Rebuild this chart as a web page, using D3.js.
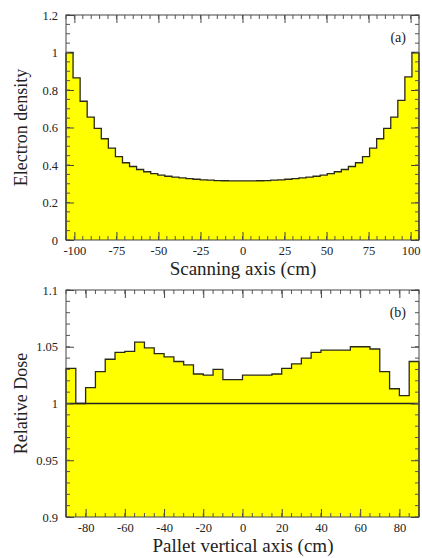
<!DOCTYPE html>
<html><head><meta charset="utf-8">
<script src="https://cdn.jsdelivr.net/npm/d3@7"></script>
<style>
html,body{margin:0;padding:0;background:#fff;}
svg{display:block;}
text{font-family:"Liberation Serif","Times New Roman",serif;fill:#222;}
</style></head>
<body>
<script>
// ---- Data ----
// Panel (a): electron density per bin along scanning axis
const topRange = [-105, 105];
const topValues = [
  1.00, 0.865, 0.74, 0.655, 0.595, 0.54, 0.49, 0.445, 0.412, 0.392,
  0.376, 0.364, 0.354, 0.346, 0.340, 0.335, 0.331, 0.327, 0.324, 0.321,
  0.319, 0.317, 0.316, 0.315, 0.315,
  0.315, 0.315, 0.316, 0.317, 0.319, 0.321, 0.324, 0.327, 0.331, 0.335,
  0.340, 0.346, 0.354, 0.364, 0.376, 0.392, 0.412, 0.445, 0.49, 0.54,
  0.595, 0.655, 0.745, 0.87, 1.00
];
const topXTicks = [-100, -75, -50, -25, 0, 25, 50, 75, 100];
const topYTicks = [0, 0.2, 0.4, 0.6, 0.8, 1, 1.2];

// Panel (b): relative dose per bin along pallet vertical axis
const botRange = [-90, 90];
const botValues = [
  1.031, 1.000, 1.014, 1.028, 1.039, 1.045, 1.046, 1.054, 1.049, 1.044,
  1.041, 1.037, 1.034, 1.026, 1.025, 1.030, 1.021, 1.021, 1.025, 1.025,
  1.025, 1.026, 1.031, 1.035, 1.040, 1.045, 1.047, 1.047, 1.047, 1.050,
  1.050, 1.048, 1.028, 1.013, 1.007, 1.037
];
const botXTicks = [-80, -60, -40, -20, 0, 20, 40, 60, 80];
const botYTicks = [0.9, 0.95, 1, 1.05, 1.1];

const W = 422, H = 558;
const svg = d3.select("body").append("svg").attr("width", W).attr("height", H);

function panel(opt) {
  const x = d3.scaleLinear().domain(opt.xDomain).range([66, 419]);
  const y = d3.scaleLinear().domain(opt.yDomain).range([opt.bottom, opt.top]);
  const g = svg.append("g");
  const n = opt.values.length;
  const bw = (opt.xDomain[1] - opt.xDomain[0]) / n;
  const pts = opt.values.map((v, i) => [opt.xDomain[0] + i * bw, v]);
  pts.push([opt.xDomain[1], opt.values[n - 1]]);

  const area = d3.area().x(d => x(d[0])).y0(y(opt.yDomain[0])).y1(d => y(d[1])).curve(d3.curveStepAfter);
  g.append("path").attr("d", area(pts)).attr("fill", "#ffff00");
  const line = d3.line().x(d => x(d[0])).y(d => y(d[1])).curve(d3.curveStepAfter);
  g.append("path").attr("d", line(pts)).attr("fill", "none").attr("stroke", "#2a2a1a").attr("stroke-width", 1.3);
  g.append("line").attr("x1", x(opt.xDomain[0])).attr("x2", x(opt.xDomain[0]))
    .attr("y1", y(opt.yDomain[0])).attr("y2", y(opt.values[0])).attr("stroke", "#2a2a1a").attr("stroke-width", 1.3);
  g.append("line").attr("x1", x(opt.xDomain[1])).attr("x2", x(opt.xDomain[1]))
    .attr("y1", y(opt.yDomain[0])).attr("y2", y(opt.values[n - 1])).attr("stroke", "#2a2a1a").attr("stroke-width", 1.3);

  if (opt.refLine !== undefined) {
    g.append("line").attr("x1", x.range()[0]).attr("x2", x.range()[1])
      .attr("y1", y(opt.refLine)).attr("y2", y(opt.refLine)).attr("stroke", "#222").attr("stroke-width", 1.4);
  }

  const xMinor = d3.range(opt.xMinor[0], opt.xMinor[1] + 1e-9, opt.xMinor[2]);
  const yMinor = d3.range(opt.yDomain[0], opt.yDomain[1] + 1e-9, opt.yMinorStep);
  const fmt = d => String(+d.toFixed(3));
  const axB = d3.axisBottom(x).tickValues(opt.xTicks).tickSize(-8).tickPadding(6).tickFormat(fmt);
  const axT = d3.axisTop(x).tickValues(opt.xTicks).tickSize(-8).tickFormat("");
  const axL = d3.axisLeft(y).tickValues(opt.yTicks).tickSize(-8).tickPadding(8).tickFormat(fmt);
  const axR = d3.axisRight(y).tickValues(opt.yTicks).tickSize(-8).tickFormat("");
  const style = sel => { sel.attr("font-family", null); sel.selectAll("path,line").attr("stroke", "#444"); sel.select(".domain").remove();
    sel.selectAll("text").style("font-family", '"Liberation Serif","Times New Roman",serif').style("font-size", "12.5px").attr("fill", "#222"); };
  g.append("g").attr("transform", `translate(0,${opt.bottom})`).call(axB).call(style);
  g.append("g").attr("transform", `translate(0,${opt.top})`).call(axT).call(style);
  g.append("g").attr("transform", `translate(66,0)`).call(axL).call(style);
  g.append("g").attr("transform", `translate(419,0)`).call(axR).call(style);
  const mg = g.append("g").attr("stroke", "#555");
  xMinor.forEach(v => {
    mg.append("line").attr("x1", x(v)).attr("x2", x(v)).attr("y1", opt.bottom).attr("y2", opt.bottom - 4);
    mg.append("line").attr("x1", x(v)).attr("x2", x(v)).attr("y1", opt.top).attr("y2", opt.top + 4);
  });
  yMinor.forEach(v => {
    mg.append("line").attr("y1", y(v)).attr("y2", y(v)).attr("x1", 66).attr("x2", 70);
    mg.append("line").attr("y1", y(v)).attr("y2", y(v)).attr("x1", 419).attr("x2", 415);
  });
  g.append("rect").attr("x", 66).attr("y", opt.top).attr("width", 353).attr("height", opt.bottom - opt.top)
    .attr("fill", "none").attr("stroke", "#444").attr("stroke-width", 1);

  g.append("text").attr("x", 243).attr("y", opt.bottom + 35).attr("text-anchor", "middle")
    .style("font-size", "19px").text(opt.xTitle);
  g.append("text").attr("transform", `translate(27,${(opt.top + opt.bottom) / 2}) rotate(-90)`)
    .attr("text-anchor", "middle").style("font-size", "18px").text(opt.yTitle);
  g.append("text").attr("x", 406).attr("y", opt.top + 27).attr("text-anchor", "end")
    .style("font-size", "14px").text(opt.label);
}

panel({
  xDomain: topRange, yDomain: [0, 1.2], top: 15, bottom: 240,
  values: topValues, xTicks: topXTicks, yTicks: topYTicks,
  xMinor: [-105, 105, 5], yMinorStep: 0.05,
  xTitle: "Scanning axis (cm)", yTitle: "Electron density", label: "(a)"
});
panel({
  xDomain: botRange, yDomain: [0.9, 1.1], top: 290, bottom: 517,
  values: botValues, xTicks: botXTicks, yTicks: botYTicks,
  xMinor: [-90, 90, 5], yMinorStep: 0.01,
  refLine: 1,
  xTitle: "Pallet vertical axis (cm)", yTitle: "Relative Dose", label: "(b)"
});
</script>
</body></html>
